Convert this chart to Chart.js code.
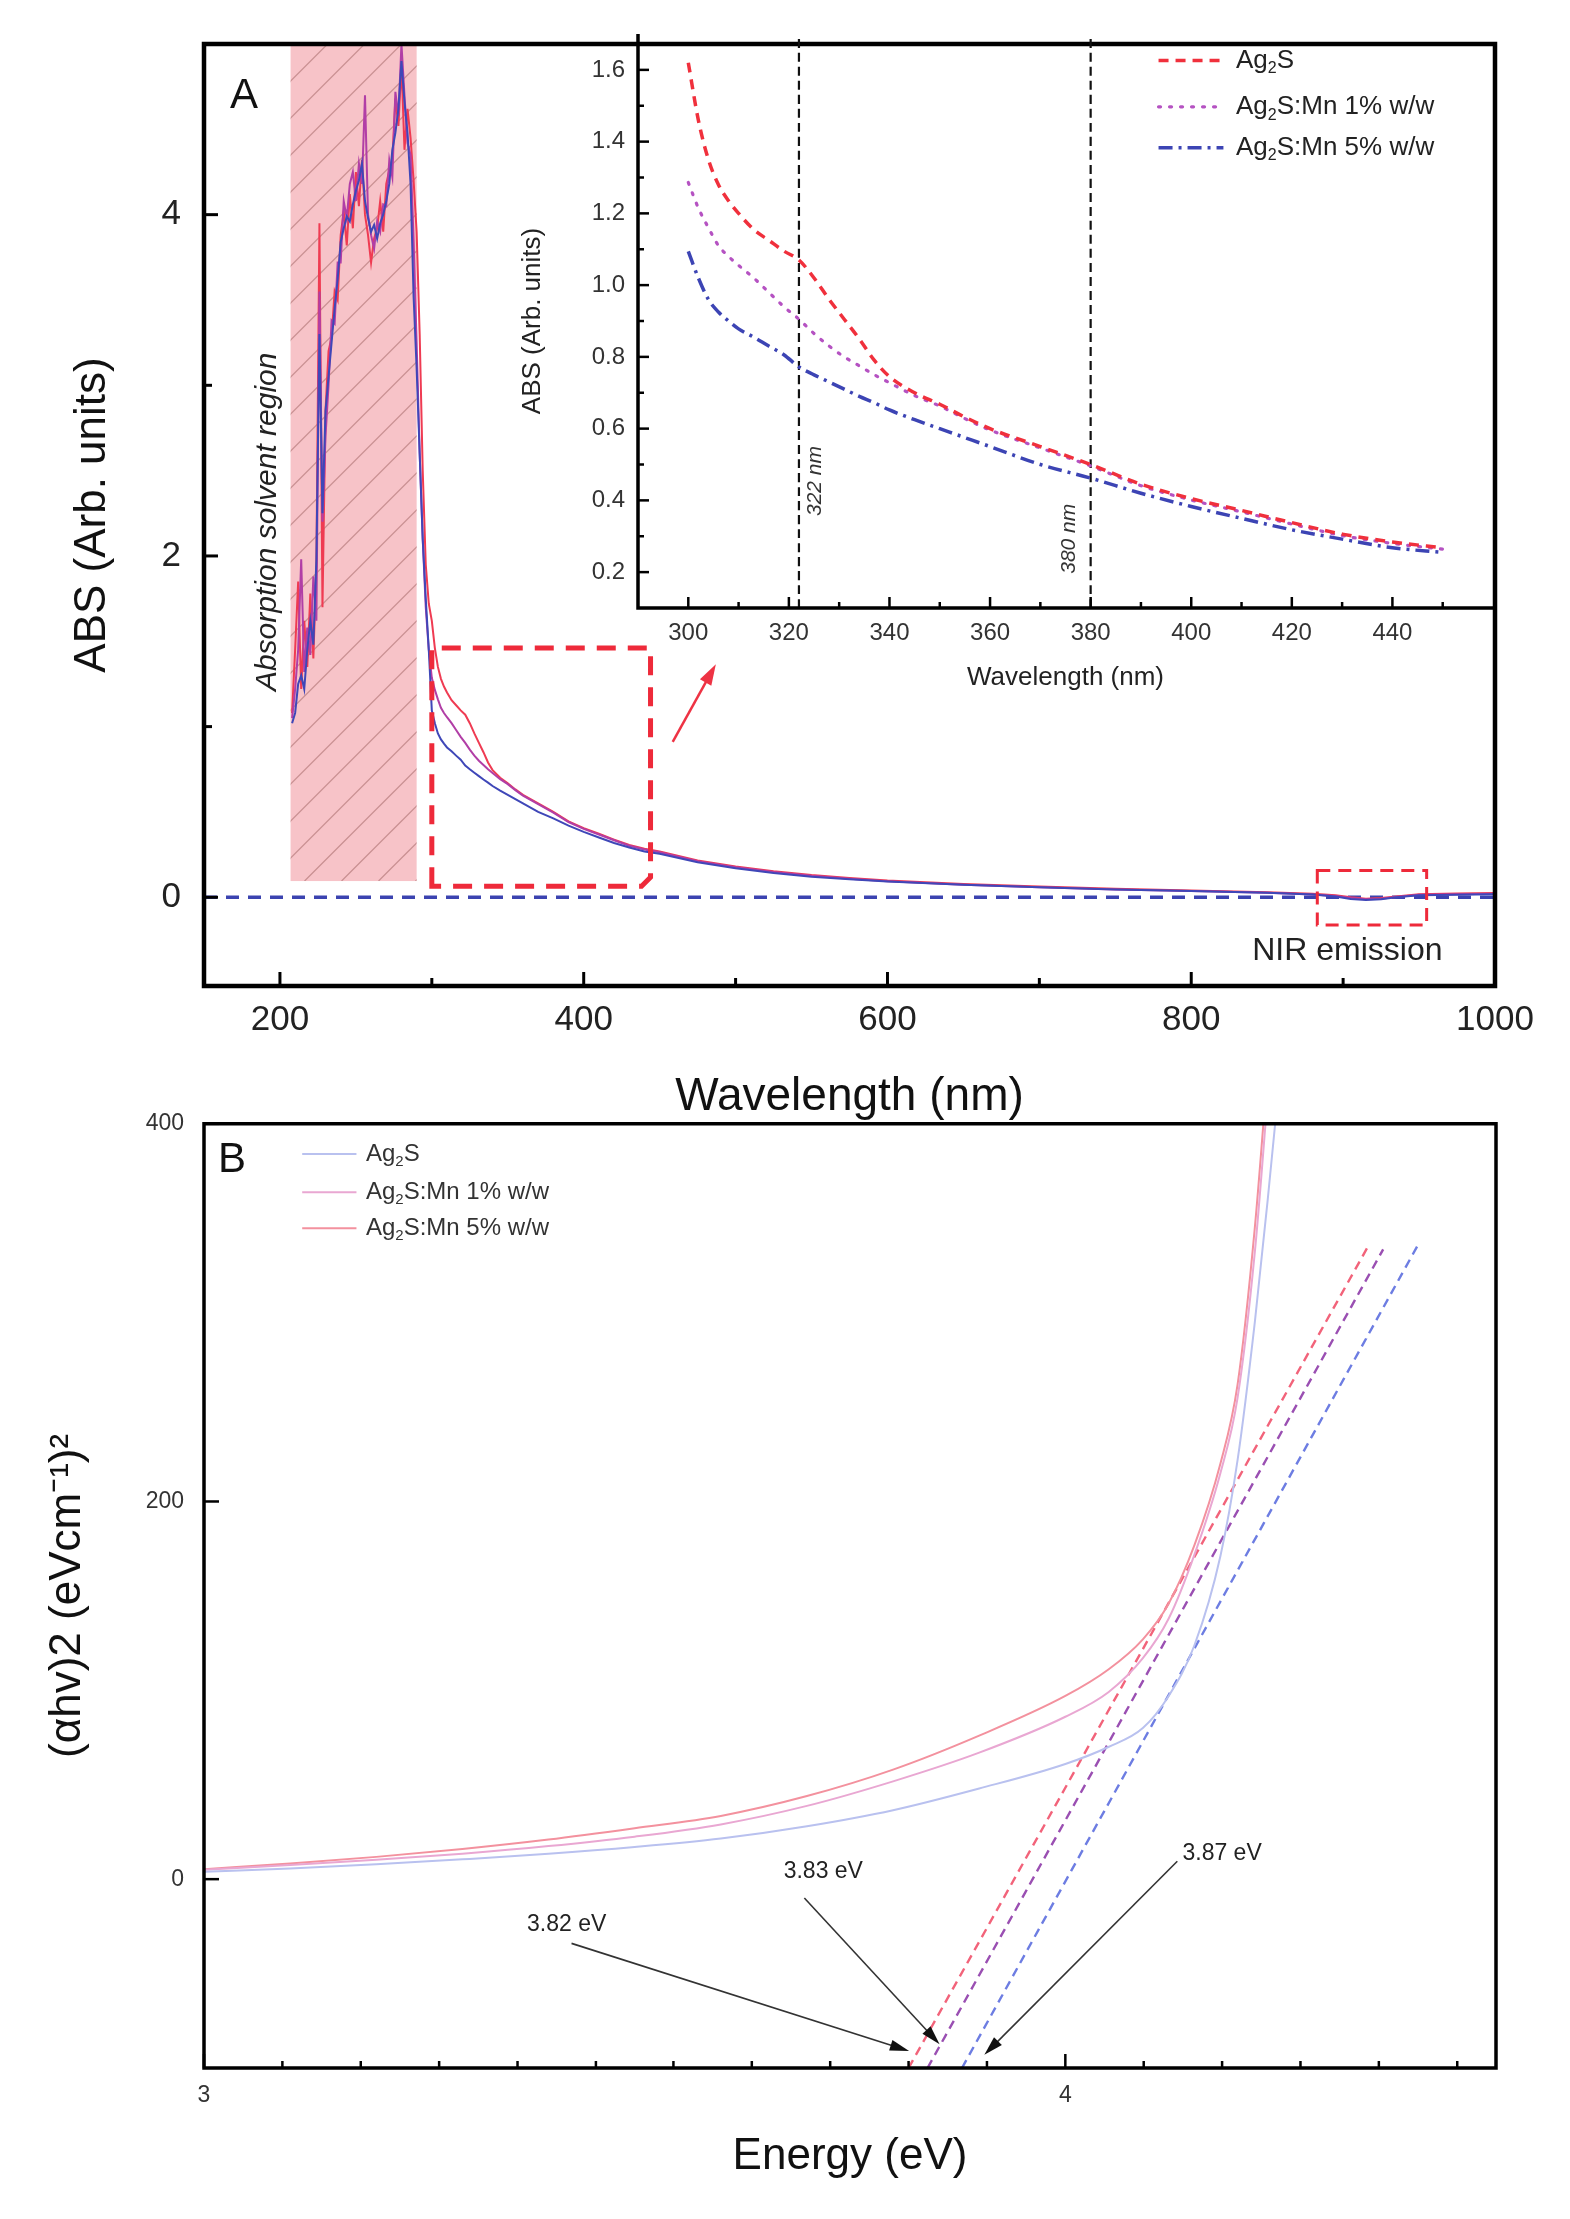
<!DOCTYPE html>
<html>
<head>
<meta charset="utf-8">
<script src="https://cdn.jsdelivr.net/npm/chart.js@4.4.1/dist/chart.umd.min.js"></script>
<style>
  body { margin: 0; background: #fff; }
  #page { position: relative; width: 1570px; height: 2219px; background: #fff; }
  .box { position: absolute; }
</style>
</head>
<body>
<div id="page">
  <div class="box" style="left:0;top:0;width:1570px;height:1130px"><canvas id="chartA" width="1570" height="1130"></canvas></div>
  <div class="box" style="left:440px;top:0;width:1130px;height:720px"><canvas id="chartInset" width="1130" height="720"></canvas></div>
  <div class="box" style="left:0;top:1090px;width:1570px;height:1129px"><canvas id="chartB" width="1570" height="1129"></canvas></div>
</div>
<script>
const FONT = "'Liberation Sans', Arial, Helvetica, sans-serif";
Chart.defaults.font.family = FONT;
Chart.defaults.color = '#222';

// ---------- Panel A: absorbance spectra ----------
const wavelength = [
  208, 210, 212, 214, 216, 218, 220, 222, 224, 226, 228, 230, 232, 234, 236, 238,
  240, 242, 244, 246, 248, 250, 252, 254, 256, 258, 260, 262, 264, 266, 268, 270,
  272, 274, 276, 278, 280, 282, 284, 286, 288, 290, 292, 294, 296, 298, 300,
  302, 304, 306, 308, 310, 313, 316, 319, 322, 325, 328, 331, 334, 337, 340, 345,
  350, 355, 360, 370, 380, 390, 400, 410, 420, 430, 440, 450,
  475, 500, 525, 550, 575, 600, 650, 700, 750, 800, 850, 880, 895, 905, 915, 925,
  935, 950, 975, 1000
];
const absAg2S = [
  1.08, 1.45, 1.85, 1.22, 1.62, 1.35, 1.78, 1.40, 1.95, 3.95, 1.70, 2.85, 3.20, 3.28, 3.55, 3.50,
  3.88, 4.02, 3.82, 4.12, 3.92, 4.25, 4.05, 4.32, 4.00, 3.88, 3.72, 3.86, 3.92, 4.08, 3.90, 4.18,
  4.26, 4.32, 4.68, 4.52, 4.88, 4.38, 4.62, 4.45, 4.20, 3.90, 3.30, 2.50, 1.95, 1.72, 1.62,
  1.46, 1.35, 1.28, 1.235, 1.20, 1.155, 1.125, 1.095, 1.07, 1.02, 0.96, 0.905, 0.85, 0.79, 0.745, 0.70,
  0.668, 0.632, 0.60, 0.55, 0.50, 0.445, 0.405, 0.372, 0.338, 0.306, 0.284, 0.268,
  0.215, 0.18, 0.152, 0.13, 0.113, 0.098, 0.078, 0.063, 0.05, 0.04, 0.03, 0.02, 0.012, 0.0, -0.008, -0.005,
  0.005, 0.018, 0.022, 0.025
];
const absMn1 = [
  1.05, 1.22, 1.45, 1.98, 1.32, 1.58, 1.42, 1.88, 1.62, 3.55, 2.20, 2.70, 3.00, 3.38, 3.36, 3.72,
  3.72, 4.08, 3.98, 4.18, 4.25, 4.08, 4.30, 4.18, 4.70, 4.00, 3.88, 3.80, 3.96, 3.90, 4.06, 4.05,
  4.32, 4.22, 4.72, 4.58, 5.00, 4.70, 4.42, 4.35, 3.85, 3.25, 2.60, 2.10, 1.70, 1.45, 1.286,
  1.215, 1.16, 1.11, 1.08, 1.055, 1.02, 0.98, 0.94, 0.905, 0.865, 0.83, 0.80, 0.775, 0.75, 0.728, 0.692,
  0.663, 0.628, 0.596, 0.546, 0.496, 0.441, 0.401, 0.368, 0.334, 0.302, 0.28, 0.264,
  0.211, 0.176, 0.148, 0.126, 0.109, 0.094, 0.074, 0.059, 0.046, 0.036, 0.026, 0.016, 0.008, -0.004, -0.012, -0.009,
  0.001, 0.014, 0.018, 0.021
];
const absMn5 = [
  1.02, 1.08, 1.25, 1.30, 1.22, 1.45, 1.62, 1.48, 1.98, 3.30, 2.25, 2.85, 3.05, 3.25, 3.45, 3.62,
  3.84, 3.92, 3.99, 3.96, 4.06, 4.14, 4.20, 4.30, 4.08, 3.98, 3.90, 3.94, 3.86, 3.95, 4.00, 4.08,
  4.18, 4.38, 4.48, 4.62, 4.90, 4.66, 4.48, 4.18, 3.52, 3.10, 2.60, 2.10, 1.75, 1.45, 1.094,
  1.02, 0.96, 0.925, 0.90, 0.878, 0.855, 0.83, 0.806, 0.772, 0.75, 0.73, 0.71, 0.69, 0.672, 0.652, 0.625,
  0.60, 0.575, 0.55, 0.50, 0.462, 0.42, 0.383, 0.35, 0.318, 0.292, 0.268, 0.255,
  0.205, 0.17, 0.142, 0.12, 0.105, 0.092, 0.073, 0.058, 0.046, 0.036, 0.026, 0.016, 0.004, -0.01, -0.016, -0.012,
  0.0, 0.012, 0.015, 0.018
];
const baselineWl = [150, 1000];
const baselineAbs = [0, 0];
const solventBand = [207, 290];        // wavelength range of the hatched region
const solventBandAbs = [0.095, 5];
const zoomBoxWl = [300, 444];
const zoomBoxAbs = [0.065, 1.46];
const nirBoxWl = [883, 955];
const nirBoxAbs = [-0.163, 0.157];

const wlTicks = [200, 400, 600, 800, 1000];
const wlMinorTicks = [300, 500, 700, 900];
const absTicks = [0, 2, 4];
const absMinorTicks = [1, 3];

const insetWlTicks = [300, 320, 340, 360, 380, 400, 420, 440];
const insetWlMinorTicks = [310, 330, 350, 370, 390, 410, 430, 450];
const insetAbsTicks = [0.2, 0.4, 0.6, 0.8, 1.0, 1.2, 1.4, 1.6];
const insetAbsMinorTicks = [0.3, 0.5, 0.7, 0.9, 1.1, 1.3, 1.5];
const markerWl = [322, 380];
const markerLabels = ['322 nm', '380 nm'];
const seriesLabels = ['Ag₂S', 'Ag₂S:Mn 1% w/w', 'Ag₂S:Mn 5% w/w'];

// ---------- Panel B: Tauc plot ----------
const energy = [3.0, 3.1, 3.2, 3.3, 3.4, 3.5, 3.6, 3.7, 3.8, 3.9, 4.0, 4.05, 4.09, 4.12, 4.15, 4.18, 4.2, 4.22, 4.235, 4.25];
const taucAg2S = [3.9, 5.7, 7.9, 10.5, 13.4, 17, 21.5, 28, 36.5, 48, 61, 70, 80, 97, 124, 171, 222, 295, 360, 430];
const taucMn1 = [5.0, 7.5, 10.3, 13.5, 17.5, 22.5, 29, 38.8, 51.8, 67, 86, 99, 117, 138, 172, 215, 255, 332, 415, 500];
const taucMn5 = [5.3, 8.3, 11.8, 16, 21, 27, 33.5, 44, 58, 76, 97, 111, 127, 146, 177, 220, 262, 345, 430, 520];
// linear fits: Ag2S, Mn 1%, Mn 5%
const fitStartE = [3.88, 3.84, 3.818];
const fitStartTauc = [-100, -100, -100];
const fitEndE = [4.409, 4.369, 4.351];
const fitEndTauc = [335.5, 333.5, 334.7];
const gapLabels = ['3.87 eV', '3.83 eV', '3.82 eV'];

const energyTicks = [3, 4];
const energyMinorTicks = [3.091, 3.182, 3.273, 3.364, 3.455, 3.545, 3.636, 3.727, 3.818, 3.909, 4.091, 4.182, 4.273, 4.364, 4.455];
const taucTicks = [0, 200, 400];

// ---------- helpers ----------
const pts = (xs, ys) => xs.map((x, i) => ({x: x, y: ys[i]}));
const fixedTicks = values => s => { s.ticks = values.map(v => ({value: v})); };

function drawText(ctx, str, x, y, font, color, align, rot) {
  ctx.save();
  ctx.translate(x, y);
  ctx.rotate(rot || 0);
  ctx.font = font;
  ctx.fillStyle = color;
  ctx.textAlign = align || 'center';
  ctx.textBaseline = 'middle';
  ctx.fillText(str, 0, 0);
  ctx.restore();
}

// text with the '₂' drawn as a small lowered 2
function drawSubText(ctx, str, x, y, size, color) {
  const parts = str.split('₂');
  ctx.save();
  ctx.fillStyle = color;
  ctx.textAlign = 'left';
  ctx.textBaseline = 'middle';
  let cx = x;
  parts.forEach((p, i) => {
    ctx.font = size + 'px ' + FONT;
    ctx.fillText(p, cx, y);
    cx += ctx.measureText(p).width;
    if (i < parts.length - 1) {
      ctx.font = Math.round(size * 0.62) + 'px ' + FONT;
      ctx.fillText('2', cx, y + size * 0.32);
      cx += ctx.measureText('2').width;
    }
  });
  ctx.restore();
}

function drawArrow(ctx, x1, y1, x2, y2, head, spread) {
  const ang = Math.atan2(y2 - y1, x2 - x1);
  ctx.beginPath();
  ctx.moveTo(x1, y1);
  ctx.lineTo(x2 - Math.cos(ang) * head * 0.7, y2 - Math.sin(ang) * head * 0.7);
  ctx.stroke();
  ctx.beginPath();
  ctx.moveTo(x2, y2);
  ctx.lineTo(x2 - head * Math.cos(ang - spread), y2 - head * Math.sin(ang - spread));
  ctx.lineTo(x2 - head * Math.cos(ang + spread), y2 - head * Math.sin(ang + spread));
  ctx.closePath();
  ctx.fill();
}

// frame plus inward tick marks
function frameTicks(o) {
  return {
    id: 'frameTicks',
    afterDraw(chart) {
      const {ctx, chartArea: a, scales} = chart;
      ctx.save();
      ctx.strokeStyle = '#000';
      ctx.lineWidth = o.tickWidth;
      o.x.forEach(([vals, len]) => vals.forEach(v => {
        const p = scales.x.getPixelForValue(v);
        ctx.beginPath(); ctx.moveTo(p, a.bottom); ctx.lineTo(p, a.bottom - len); ctx.stroke();
      }));
      o.y.forEach(([vals, len]) => vals.forEach(v => {
        const p = scales.y.getPixelForValue(v);
        ctx.beginPath(); ctx.moveTo(a.left, p); ctx.lineTo(a.left + len, p); ctx.stroke();
      }));
      ctx.lineWidth = o.frameWidth;
      ctx.beginPath();
      if (o.full) {
        ctx.rect(a.left, a.top, a.right - a.left, a.bottom - a.top);
      } else {
        ctx.moveTo(a.left, a.top); ctx.lineTo(a.left, a.bottom); ctx.lineTo(a.right, a.bottom);
      }
      ctx.stroke();
      ctx.restore();
    }
  };
}

// ---------- Panel A main chart ----------
const panelA = {
  id: 'panelA',
  beforeDatasetsDraw(chart) {
    const {ctx, scales: {x, y}} = chart;
    const l = x.getPixelForValue(solventBand[0]), r = x.getPixelForValue(solventBand[1]);
    const t = y.getPixelForValue(solventBandAbs[1]), b = y.getPixelForValue(solventBandAbs[0]);
    ctx.save();
    ctx.fillStyle = '#f7c3c8';
    ctx.fillRect(l, t, r - l, b - t);
    ctx.beginPath(); ctx.rect(l, t, r - l, b - t); ctx.clip();
    ctx.strokeStyle = 'rgba(160,100,100,0.55)';
    ctx.lineWidth = 1.2;
    const h = b - t;
    for (let k = -h; k < r - l; k += 37) {
      ctx.beginPath(); ctx.moveTo(l + k, b); ctx.lineTo(l + k + h, b - h); ctx.stroke();
    }
    ctx.restore();
  },
  afterDatasetsDraw(chart) {
    const {ctx, scales: {x, y}} = chart;
    ctx.save();
    // dashed zoom box
    const bl = x.getPixelForValue(zoomBoxWl[0]), br = x.getPixelForValue(zoomBoxWl[1]);
    const bt = y.getPixelForValue(zoomBoxAbs[1]), bb = y.getPixelForValue(zoomBoxAbs[0]);
    ctx.strokeStyle = '#ee2a3a';
    ctx.lineWidth = 5;
    ctx.setLineDash([19, 12]);
    ctx.beginPath();
    ctx.moveTo(bl, bb); ctx.lineTo(bl, bt); ctx.lineTo(br, bt); ctx.lineTo(br, bb - 9); ctx.lineTo(br - 9, bb);
    ctx.closePath(); ctx.stroke();
    // NIR box
    const nl = x.getPixelForValue(nirBoxWl[0]), nr = x.getPixelForValue(nirBoxWl[1]);
    const nt = y.getPixelForValue(nirBoxAbs[1]), nb = y.getPixelForValue(nirBoxAbs[0]);
    ctx.lineWidth = 3;
    ctx.setLineDash([13, 8]);
    ctx.strokeRect(nl, nt, nr - nl, nb - nt);
    ctx.setLineDash([]);
    // red arrow towards the inset
    ctx.strokeStyle = '#ee3344'; ctx.fillStyle = '#ee3344'; ctx.lineWidth = 2.5;
    drawArrow(ctx, x.getPixelForValue(458.6), y.getPixelForValue(0.911),
      x.getPixelForValue(487), y.getPixelForValue(1.366), 22, 0.3);
    ctx.restore();
    drawText(ctx, 'A', x.getPixelForValue(176.3), y.getPixelForValue(4.69), '42px ' + FONT, '#111');
    drawText(ctx, 'Absorption solvent region', x.getPixelForValue(192.1), y.getPixelForValue(2.2),
      'italic 30px ' + FONT, '#222', 'center', -Math.PI / 2);
    drawText(ctx, 'NIR emission', x.getPixelForValue(902.8), y.getPixelForValue(-0.318), '32px ' + FONT, '#222');
  }
};

new Chart(document.getElementById('chartA'), {
  type: 'line',
  data: {
    datasets: [
      {label: seriesLabels[2], data: pts(wavelength, absMn5), borderColor: '#3f47b8', borderWidth: 2},
      {label: seriesLabels[1], data: pts(wavelength, absMn1), borderColor: '#b13ea6', borderWidth: 2},
      {label: seriesLabels[0], data: pts(wavelength, absAg2S), borderColor: '#ef3b52', borderWidth: 2},
      {label: 'baseline', data: pts(baselineWl, baselineAbs), borderColor: '#3b43b0', borderWidth: 3.5, borderDash: [13, 9]}
    ]
  },
  options: {
    responsive: false, animation: false, events: [],
    layout: {padding: {left: 0, top: 34, right: 75, bottom: 0}},
    elements: {point: {radius: 0}, line: {tension: 0}},
    plugins: {legend: {display: false}, tooltip: {enabled: false}},
    scales: {
      x: {
        type: 'linear', min: 150, max: 1000,
        afterBuildTicks: fixedTicks(wlTicks),
        afterFit: s => { s.height = 144; },
        grid: {display: false, drawTicks: false}, border: {display: false},
        ticks: {font: {size: 35}, color: '#222', padding: 13, maxRotation: 0, autoSkip: false, callback: v => String(v)},
        title: {display: true, text: 'Wavelength (nm)', font: {size: 46}, color: '#111', padding: {top: 0, bottom: 5}}
      },
      y: {
        type: 'linear', min: -0.52, max: 5,
        afterBuildTicks: fixedTicks(absTicks),
        afterFit: s => { s.width = 204; },
        grid: {display: false, drawTicks: false}, border: {display: false},
        ticks: {font: {size: 35}, color: '#222', padding: 23, autoSkip: false},
        title: {display: true, text: 'ABS (Arb. units)', font: {size: 44}, color: '#111', padding: {top: 66, bottom: 0}}
      }
    }
  },
  plugins: [panelA, frameTicks({
    tickWidth: 3, frameWidth: 4.5, full: true,
    x: [[wlTicks, 14], [wlMinorTicks, 8]],
    y: [[absTicks, 14], [absMinorTicks, 8]]
  })]
});

// ---------- Panel A inset ----------
const insetIdx = wavelength.map((w, i) => i).filter(i => wavelength[i] >= 300 && wavelength[i] <= 450);
const insetPts = vals => insetIdx.map(i => ({x: wavelength[i], y: vals[i]}));
const insetAbsMin = 0.1, insetAbsMax = 1.7;

const insetDecor = {
  id: 'insetDecor',
  afterDatasetsDraw(chart) {
    const {ctx, scales: {x, y}} = chart;
    const rows = [1.626, 1.497, 1.383];
    chart.data.datasets.slice(0, 3).forEach((ds, i) => {
      const py = y.getPixelForValue(rows[i]);
      ctx.save();
      ctx.strokeStyle = ds.borderColor;
      ctx.lineWidth = ds.borderWidth;
      ctx.lineCap = ds.borderCapStyle || 'butt';
      ctx.setLineDash(ds.borderDash || []);
      ctx.beginPath();
      ctx.moveTo(x.getPixelForValue(393.5), py);
      ctx.lineTo(x.getPixelForValue(406.4), py);
      ctx.stroke();
      ctx.restore();
      drawSubText(ctx, ds.label, x.getPixelForValue(408.9), py, 26, '#222');
    });
    drawText(ctx, markerLabels[0], x.getPixelForValue(325.2), y.getPixelForValue(0.454),
      'italic 21px ' + FONT, '#333', 'center', -Math.PI / 2);
    drawText(ctx, markerLabels[1], x.getPixelForValue(375.7), y.getPixelForValue(0.293),
      'italic 21px ' + FONT, '#333', 'center', -Math.PI / 2);
  }
};

new Chart(document.getElementById('chartInset'), {
  type: 'line',
  data: {
    datasets: [
      {label: seriesLabels[0], data: insetPts(absAg2S), borderColor: '#f0303c', borderWidth: 3.5, borderDash: [10, 7]},
      {label: seriesLabels[1], data: insetPts(absMn1), borderColor: '#b552c2', borderWidth: 3.2, borderDash: [2, 9], borderCapStyle: 'round'},
      {label: seriesLabels[2], data: insetPts(absMn5), borderColor: '#3c44b4', borderWidth: 3.5, borderDash: [14, 6, 3, 6]},
      {label: markerLabels[0], data: pts([markerWl[0], markerWl[0]], [insetAbsMin, insetAbsMax]), borderColor: '#111', borderWidth: 2.2, borderDash: [9, 5]},
      {label: markerLabels[1], data: pts([markerWl[1], markerWl[1]], [insetAbsMin, insetAbsMax]), borderColor: '#111', borderWidth: 2.2, borderDash: [9, 5]}
    ]
  },
  options: {
    responsive: false, animation: false, events: [],
    layout: {padding: {left: 0, top: 34, right: 77, bottom: 0}},
    elements: {point: {radius: 0}, line: {cubicInterpolationMode: 'monotone'}},
    plugins: {legend: {display: false}, tooltip: {enabled: false}},
    scales: {
      x: {
        type: 'linear', min: 290, max: 460,
        afterBuildTicks: fixedTicks(insetWlTicks),
        afterFit: s => { s.height = 112; },
        grid: {display: false, drawTicks: false}, border: {display: false},
        ticks: {font: {size: 24}, color: '#333', padding: 11, maxRotation: 0, autoSkip: false},
        title: {display: true, text: 'Wavelength (nm)', font: {size: 26}, color: '#222', padding: {top: 0, bottom: 27}}
      },
      y: {
        type: 'linear', min: insetAbsMin, max: insetAbsMax,
        afterBuildTicks: fixedTicks(insetAbsTicks),
        afterFit: s => { s.width = 198; },
        grid: {display: false, drawTicks: false}, border: {display: false},
        ticks: {font: {size: 24}, color: '#333', padding: 13, autoSkip: false, callback: v => v.toFixed(1)},
        title: {display: true, text: 'ABS (Arb. units)', font: {size: 26}, color: '#222', padding: {top: 77, bottom: 0}}
      }
    }
  },
  plugins: [insetDecor, frameTicks({
    tickWidth: 2.5, frameWidth: 3.5, full: false,
    x: [[insetWlTicks, 11], [insetWlMinorTicks, 6]],
    y: [[insetAbsTicks, 11], [insetAbsMinorTicks, 6]]
  })]
});

// ---------- Panel B ----------
const bColors = ['#b9c1ef', '#e9a7d2', '#f3919e'];
const fitColors = ['#6d7de2', '#9a4fb2', '#f2637a'];

const panelB = {
  id: 'panelB',
  afterDatasetsDraw(chart) {
    const {ctx, scales: {x, y}} = chart;
    drawText(ctx, 'B', x.getPixelForValue(3.0326), y.getPixelForValue(380.6), '42px ' + FONT, '#111');
    const rows = [384, 363.7, 344.7];
    chart.data.datasets.slice(0, 3).forEach((ds, i) => {
      const py = y.getPixelForValue(rows[i]);
      ctx.save();
      ctx.strokeStyle = ds.borderColor; ctx.lineWidth = 2;
      ctx.beginPath(); ctx.moveTo(x.getPixelForValue(3.114), py); ctx.lineTo(x.getPixelForValue(3.177), py); ctx.stroke();
      ctx.restore();
      drawSubText(ctx, ds.label, x.getPixelForValue(3.188), py, 24, '#333');
    });
    // band gap annotations: [text E, text value, arrow start E, start value, tip E, tip value]
    const notes = [
      [4.182, 13.5, 4.130, 9.5, 3.906, -93],
      [3.719, 4.2, 3.697, -10, 3.854, -87.4],
      [3.421, -24, 3.4267, -34, 3.8186, -91]
    ];
    ctx.save();
    ctx.strokeStyle = '#333'; ctx.fillStyle = '#111'; ctx.lineWidth = 1.6;
    notes.forEach((n, i) => {
      drawText(ctx, gapLabels[i], x.getPixelForValue(n[0]), y.getPixelForValue(n[1]), '23px ' + FONT, '#222');
      drawArrow(ctx, x.getPixelForValue(n[2]), y.getPixelForValue(n[3]),
        x.getPixelForValue(n[4]), y.getPixelForValue(n[5]), 20, 0.28);
    });
    ctx.restore();
  }
};

new Chart(document.getElementById('chartB'), {
  type: 'line',
  data: {
    datasets: [
      {label: seriesLabels[0], data: pts(energy, taucAg2S), borderColor: bColors[0], borderWidth: 2},
      {label: seriesLabels[1], data: pts(energy, taucMn1), borderColor: bColors[1], borderWidth: 2},
      {label: seriesLabels[2], data: pts(energy, taucMn5), borderColor: bColors[2], borderWidth: 2},
      ...fitStartE.map((e, i) => ({
        label: 'fit ' + gapLabels[i],
        data: pts([e, fitEndE[i]], [fitStartTauc[i], fitEndTauc[i]]),
        borderColor: fitColors[i], borderWidth: 2.4, borderDash: [9, 6]
      }))
    ]
  },
  options: {
    responsive: false, animation: false, events: [],
    layout: {padding: {left: 0, top: 30, right: 74, bottom: 0}},
    elements: {point: {radius: 0}, line: {cubicInterpolationMode: 'monotone'}},
    plugins: {legend: {display: false}, tooltip: {enabled: false}},
    scales: {
      x: {
        type: 'linear', min: 3, max: 4.5,
        afterBuildTicks: fixedTicks(energyTicks),
        afterFit: s => { s.height = 151; },
        grid: {display: false, drawTicks: false}, border: {display: false},
        ticks: {font: {size: 23}, color: '#333', padding: 14, maxRotation: 0, autoSkip: false},
        title: {display: true, text: 'Energy (eV)', font: {size: 44}, color: '#111', padding: {top: 0, bottom: 36}}
      },
      y: {
        type: 'linear', min: -100, max: 400,
        afterBuildTicks: fixedTicks(taucTicks),
        afterFit: s => { s.width = 204; },
        grid: {display: false, drawTicks: false}, border: {display: false},
        ticks: {font: {size: 23}, color: '#333', padding: 20, autoSkip: false},
        title: {display: true, text: '(αhv)2 (eVcm⁻¹)²', font: {size: 44}, color: '#111', padding: {top: 41, bottom: 0}}
      }
    }
  },
  plugins: [panelB, frameTicks({
    tickWidth: 2.5, frameWidth: 3.5, full: true,
    x: [[energyTicks, 14], [energyMinorTicks, 7]],
    y: [[taucTicks, 15]]
  })]
});
</script>
</body>
</html>
